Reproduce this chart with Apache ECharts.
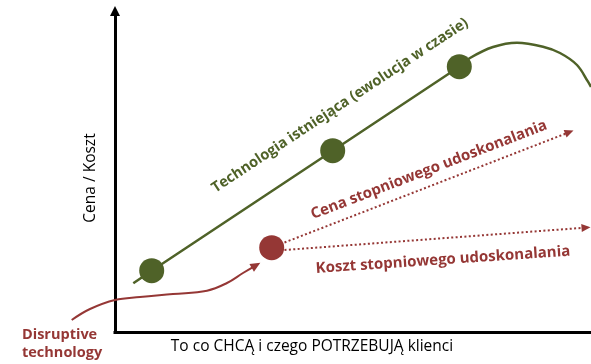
<!DOCTYPE html>
<html><head><meta charset="utf-8">
<script src="https://cdn.jsdelivr.net/npm/echarts@6/dist/echarts.min.js"></script>
<style>html,body{margin:0;padding:0;background:#fff}#c{width:591px;height:364px}</style>
</head><body><div id="c"></div>
<script>
// ---- data (abstract units: x = "what clients want/need", y = price / cost) ----
const xAxisTitle = 'To co CHCĄ i czego POTRZEBUJĄ klienci';
const yAxisTitle = 'Cena / Koszt';
const techLine = [[3.66, 9.74], [7.34, 12.26], [43.54, 36.26], [68.86, 53.06]];
const techDots = [[7.34, 12.26], [43.54, 36.26], [68.86, 53.06]];
const techDecline = [[68.86, 53.06], [71, 54.8], [75.6, 57], [80.4, 57.86], [85.6, 57.06], [89, 55.8], [92.4, 53.4], [94.6, 50.06], [95.2, 49]];
const disruptivePath = [[-8.66, 2.4], [-5, 4.6], [0, 6.4], [5, 7], [11.6, 7.6], [18.4, 8.26], [22.4, 9.8], [25.6, 11.8], [28.2, 13.34]];
const disruptiveDot = [[31.34, 16.86]];
const priceArrow = [[33.9, 17.9], [90.86, 39.96]];
const costArrow = [[33.9, 16.4], [94.2, 20.88]];
const techLabel = 'Technologia istniejąca (ewolucja w czasie)';
const priceLabel = 'Cena stopniowego udoskonalania';
const costLabel = 'Koszt stopniowego udoskonalania';
const disruptiveLabel = 'Disruptive\ntechnology';

const GREEN = '#4F6228', RED = '#953735';
const FONT = '"Open Sans", Lato, sans-serif';

const chart = echarts.init(document.getElementById('c'), null, {renderer: 'canvas'});
const arrowEnd = (arr) => arr.map((p, i) => i === arr.length - 1
  ? {value: p, symbol: 'triangle', symbolSize: [9, 10], symbolRotate: -59.5}
  : {value: p});
const hiddenAxis = {show: false, axisLine: {show: false}, axisTick: {show: false},
  axisLabel: {show: false}, splitLine: {show: false}};

chart.setOption({
  animation: false,
  backgroundColor: '#ffffff',
  grid: [
    {left: 115, right: 0, top: 11, bottom: 32},
    {left: 0, right: 0, top: 11, bottom: 32}
  ],
  xAxis: [{
    type: 'value', min: 0, max: 95.2, gridIndex: 0,
    axisLine: {onZero: true, lineStyle: {color: '#000', width: 3, cap: 'square'}},
    axisTick: {show: false}, axisLabel: {show: false}, splitLine: {show: false},
    name: xAxisTitle, nameLocation: 'middle', nameGap: 7,
    nameTextStyle: {color: '#000', fontSize: 15.5, fontFamily: FONT, padding: [0, 82, 0, 0]}
  }, Object.assign({type: 'value', min: -23, max: 95.2, gridIndex: 1}, hiddenAxis)],
  yAxis: [{
    type: 'value', min: 0, max: 64.2, gridIndex: 0,
    axisLine: {onZero: true, symbol: ['none', 'triangle'], symbolSize: [10, 10],
      lineStyle: {color: '#000', width: 3}},
    axisTick: {show: false}, axisLabel: {show: false}, splitLine: {show: false},
    name: yAxisTitle, nameLocation: 'middle', nameGap: 16, nameRotate: 90,
    nameTextStyle: {color: '#000', fontSize: 15.5, fontFamily: FONT, padding: [0, 13, 0, 0]}
  }, Object.assign({type: 'value', min: 0, max: 64.2, gridIndex: 1}, hiddenAxis)],
  series: [
    {type: 'line', data: techLine, showSymbol: false, z: 2,
      lineStyle: {color: GREEN, width: 2.5}},
    {type: 'line', data: techDecline, smooth: 0.35, showSymbol: false, z: 2,
      lineStyle: {color: GREEN, width: 2.5}},
    {type: 'scatter', data: techDots, symbolSize: 25, z: 4,
      itemStyle: {color: GREEN, opacity: 1}},
    {type: 'line', xAxisIndex: 1, yAxisIndex: 1, data: arrowEnd(disruptivePath),
      smooth: 0.4, clip: false, symbol: 'none', showSymbol: true, z: 2,
      itemStyle: {color: RED}, lineStyle: {color: RED, width: 2}},
    {type: 'scatter', data: disruptiveDot, symbolSize: 25, z: 4,
      itemStyle: {color: RED, opacity: 1},
      markLine: {
        silent: true, animation: false,
        symbol: ['none', 'triangle'], symbolSize: [8, 9],
        label: {show: false},
        lineStyle: {color: RED, width: 2, type: [2, 2.4], opacity: 1},
        emphasis: {disabled: true},
        data: [
          [{coord: priceArrow[0]}, {coord: priceArrow[1]}],
          [{coord: costArrow[0]}, {coord: costArrow[1]}]
        ]
      }},
    {type: 'scatter', clip: false, symbol: 'circle', symbolSize: 0, z: 6, silent: true,
      itemStyle: {color: '#fff', opacity: 1},
      label: {show: true, position: 'inside', formatter: '{b}', fontFamily: FONT,
        fontWeight: 'bold', fontSize: 15, align: 'center', verticalAlign: 'middle'},
      data: [
        {name: techLabel, value: [45, 45.3], label: {rotate: 33.5, color: GREEN, fontSize: 14.6}},
        {name: priceLabel, value: [62.8, 32.4], label: {rotate: 21, color: RED}},
        {name: costLabel, value: [65.6, 14.4], label: {rotate: 3.9, color: RED}},
        {name: disruptiveLabel, value: [-18.6, -2.4],
          label: {rotate: 0, color: RED, align: 'left', lineHeight: 18, fontSize: 14.5}}
      ]}
  ]
});
</script></body></html>
